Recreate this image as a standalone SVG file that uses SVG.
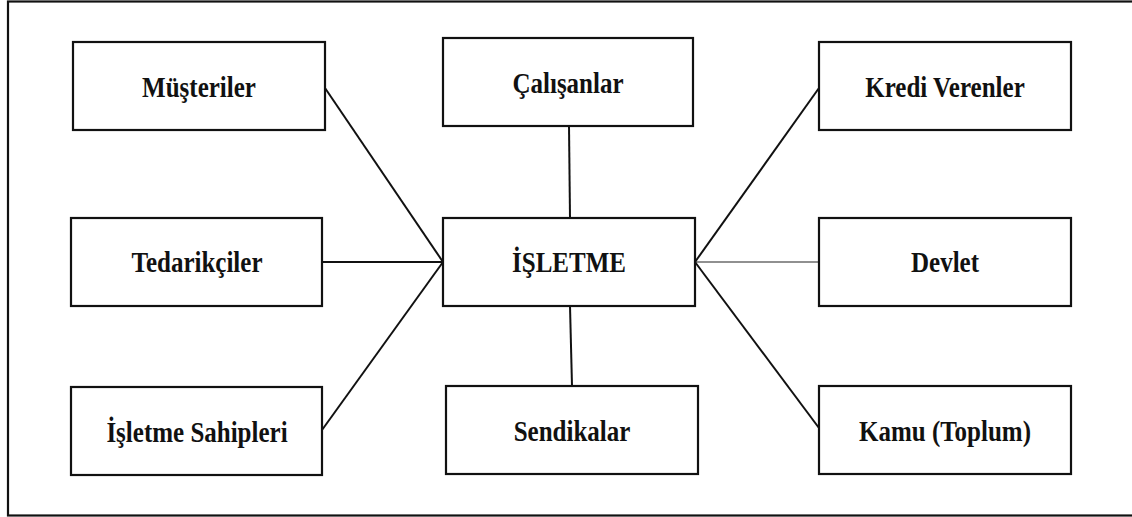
<svg xmlns="http://www.w3.org/2000/svg" width="1132" height="517" viewBox="0 0 1132 517">
<style>
.box{fill:#fff;stroke:#111;stroke-width:2.2}
.lbl{font-family:"Liberation Serif","Times New Roman",serif;font-weight:bold;font-size:25px;fill:#111;text-anchor:middle}
.con{stroke:#111;stroke-width:2;fill:none}
.thin{stroke:#222;stroke-width:1.2}
</style>
<rect width="1132" height="517" fill="#fff"/>
<rect x="8" y="1.5" width="1140" height="514" fill="none" stroke="#111" stroke-width="2.2"/>
<g id="connectors">
<line class="con" x1="325" y1="88" x2="443" y2="262"/>
<line class="con" x1="322" y1="262" x2="443" y2="262"/>
<line class="con" x1="322" y1="430" x2="443" y2="262"/>
<line class="con" x1="569" y1="126" x2="570" y2="218"/>
<line class="con" x1="570" y1="306" x2="572" y2="386"/>
<line class="con" x1="695" y1="262" x2="819" y2="88"/>
<line class="con thin" x1="695" y1="262" x2="819" y2="262"/>
<line class="con" x1="695" y1="262" x2="819" y2="428"/>
</g>
<g id="musteriler"><rect class="box" x="73" y="42" width="252" height="88"/><text class="lbl" transform="translate(199,97) scale(1,1.2)">Müşteriler</text></g>
<g id="tedarikciler"><rect class="box" x="71" y="218" width="251" height="88"/><text class="lbl" transform="translate(197,272) scale(1,1.2)">Tedarikçiler</text></g>
<g id="isletme-sahipleri"><rect class="box" x="71" y="387" width="251" height="88"/><text class="lbl" transform="translate(197,442) scale(1,1.2)">İşletme Sahipleri</text></g>
<g id="calisanlar"><rect class="box" x="443" y="38" width="250" height="88"/><text class="lbl" transform="translate(568,93) scale(1,1.2)">Çalışanlar</text></g>
<g id="isletme"><rect class="box" x="443" y="218" width="252" height="88"/><text class="lbl" transform="translate(569,272) scale(1,1.2)">İŞLETME</text></g>
<g id="sendikalar"><rect class="box" x="446" y="386" width="252" height="88"/><text class="lbl" transform="translate(572,441) scale(1,1.2)">Sendikalar</text></g>
<g id="kredi-verenler"><rect class="box" x="819" y="42" width="252" height="88"/><text class="lbl" transform="translate(945,97) scale(1,1.2)">Kredi Verenler</text></g>
<g id="devlet"><rect class="box" x="819" y="218" width="252" height="88"/><text class="lbl" transform="translate(945,272) scale(1,1.2)">Devlet</text></g>
<g id="kamu"><rect class="box" x="819" y="386" width="252" height="88"/><text class="lbl" transform="translate(945,441) scale(1,1.2)">Kamu (Toplum)</text></g>
</svg>
